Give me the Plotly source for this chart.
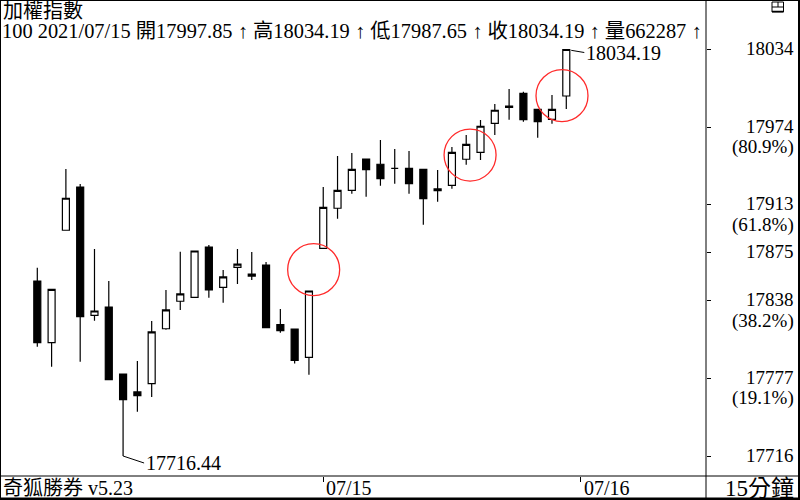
import plotly.graph_objects as go

# ---------------- data ----------------
opens = [17853.2, 17805.0, 17892.9, 17926.7, 17826.4, 17832.9, 17780.5, 17766.5, 17773.0, 17815.9,
         17837.4, 17840.5, 17879.8, 17848.3, 17863.9, 17858.7, 17865.7, 17819.1, 17815.7, 17793.6,
         17878.8, 17910.1, 17924.1, 17948.6, 17944.5, 17941.3, 17941.3, 17940.5, 17925.2, 17928.0,
         17948.4, 17953.8, 17976.5, 17990.0, 17999.9, 17987.4, 17979.6, 17997.85]
highs = [17863.6, 17847.0, 17940.8, 17929.1, 17878.2, 17853.2, 17780.5, 17790.7, 17822.0, 17846.2,
         17876.1, 17876.7, 17881.4, 17861.8, 17878.2, 17875.9, 17868.1, 17831.3, 17815.7, 17845.4,
         17926.7, 17950.9, 17953.3, 17948.6, 17963.4, 17956.4, 17954.9, 17940.5, 17940.0, 17958.0,
         17967.4, 17979.1, 17991.6, 18003.3, 18001.2, 17987.4, 17998.6, 18034.19]
lows = [17801.9, 17786.2, 17892.9, 17790.2, 17822.2, 17776.1, 17716.44, 17751.1, 17762.6, 17815.2,
        17830.6, 17840.5, 17840.2, 17836.3, 17850.9, 17854.0, 17816.7, 17812.8, 17788.7, 17780.0,
        17878.8, 17901.9, 17921.5, 17919.1, 17927.7, 17929.3, 17921.5, 17897.2, 17915.2, 17925.4,
        17944.1, 17947.8, 17967.4, 17979.3, 17977.8, 17965.2, 17976.2, 17987.65]
closes = [17805.0, 17846.7, 17917.9, 17825.3, 17829.8, 17776.1, 17760.5, 17763.6, 17813.4, 17830.6,
          17843.1, 17876.7, 17846.2, 17856.4, 17866.5, 17857.1, 17816.7, 17814.4, 17791.1, 17845.4,
          17910.8, 17924.1, 17940.5, 17940.2, 17933.2, 17941.3, 17929.3, 17917.6, 17923.8, 17953.8,
          17960.1, 17974.2, 17986.7, 17989.0, 17979.3, 17977.8, 17987.4, 18034.19]
bar_index = list(range(len(opens)))

date_tick_index = [20, 38]
date_tick_text = ["07/15", "07/16"]

fib_levels = [18034.19, 17973.50, 17912.81, 17875.32, 17837.82, 17777.13, 17716.44]
fib_values = ["18034", "17974", "17913", "17875", "17838", "17777", "17716"]
fib_pcts = ["", "(80.9%)", "(61.8%)", "", "(38.2%)", "(19.1%)", ""]

circle_x = [19.33, 30.27, 36.70]
circle_y = [17862.1, 17951.7, 17998.1]

title_text = "加權指數"
info_parts = ["100 2021/07/15", "開17997.85", "高18034.19", "低17987.65", "收18034.19", "量662287"]
footer_left = "奇狐勝券 v5.23"
footer_right = "15分鐘"

# ---------------- figure ----------------
W, H = 800, 500
PX_X = 706     # right edge of plot area (px)
PX_Y = 476     # bottom edge of plot area (px)

def px(x):
    return x / W

def py(y):
    return 1 - y / H

FONT = "Liberation Serif, Noto Sans CJK TC, serif"

fig = go.Figure()
fig.add_trace(go.Candlestick(
    x=bar_index, open=opens, high=highs, low=lows, close=closes,
    increasing=dict(line=dict(color="black", width=1.2), fillcolor="white"),
    decreasing=dict(line=dict(color="black", width=1.2), fillcolor="black"),
    whiskerwidth=0, showlegend=False, hoverinfo="skip",
))

shapes = []
# red highlight circles
for cx, cy in zip(circle_x, circle_y):
    shapes.append(dict(type="circle", xref="x", yref="y", xsizemode="pixel", ysizemode="pixel",
                       xanchor=cx, yanchor=cy, x0=-26, x1=26, y0=-26, y1=26,
                       line=dict(color="#ff2a2a", width=1.3)))

def pline(x0, y0, x1, y1, w=1):
    shapes.append(dict(type="line", xref="paper", yref="paper",
                       x0=px(x0), y0=py(y0), x1=px(x1), y1=py(y1),
                       line=dict(color="black", width=w)))

# frame
pline(0.5, 0, 0.5, 500, 1)
pline(0, 0.5, 800, 0.5, 1)
pline(799, 0, 799, 500, 2)
pline(0, 498.8, 800, 498.8, 2.5)
pline(0, PX_Y, 800, PX_Y, 1)
pline(PX_X, 0, PX_X, 500, 1)
# small icon top right
shapes.append(dict(type="rect", xref="paper", yref="paper", x0=px(772), x1=px(783.5),
                   y0=py(2), y1=py(12), line=dict(color="black", width=1)))
pline(772, 7, 783.5, 7, 1)
pline(778, 2, 778, 7, 1)
pline(772, 11.5, 783.5, 11.5, 1.5)

annotations = []
annotations.append(dict(text=title_text, xref="paper", yref="paper", x=px(1), y=py(11),
                        xanchor="left", yanchor="middle", showarrow=False,
                        font=dict(family=FONT, size=20, color="black")))
info_text = " <b>↑</b> ".join(info_parts[:2]) + " <b>↑</b> " + " <b>↑</b> ".join(info_parts[2:]) + " <b>↑</b>"
info_text = info_parts[0] + " " + " ".join(p + " <b>↑</b>" for p in info_parts[1:])
annotations.append(dict(text=info_text, xref="paper", yref="paper", x=px(0), y=py(31.5),
                        xanchor="left", yanchor="middle", showarrow=False,
                        font=dict(family=FONT, size=20.4, color="black")))

# right axis labels
for lvl, val, pct in zip(fib_levels, fib_values, fib_pcts):
    annotations.append(dict(text=val, xref="paper", yref="y", x=px(796), y=lvl,
                            xanchor="right", yanchor="middle", yshift=1, showarrow=False,
                            font=dict(family=FONT, size=19, color="black")))
    if pct:
        annotations.append(dict(text=pct, xref="paper", yref="y", x=px(796), y=lvl,
                                xanchor="right", yanchor="middle", yshift=-20, showarrow=False,
                                font=dict(family=FONT, size=19, color="black")))

# bottom strip
annotations.append(dict(text=footer_left, xref="paper", yref="paper", x=px(1), y=py(488),
                        xanchor="left", yanchor="middle", showarrow=False,
                        font=dict(family=FONT, size=20, color="black")))
annotations.append(dict(text=footer_right, xref="paper", yref="paper", x=px(796), y=py(488),
                        xanchor="right", yanchor="middle", showarrow=False,
                        font=dict(family=FONT, size=23, color="black")))
for ti, tt in zip(date_tick_index, date_tick_text):
    annotations.append(dict(text=tt, xref="x", yref="paper", x=ti, y=py(488),
                            xanchor="left", yanchor="middle", xshift=1, showarrow=False,
                            font=dict(family=FONT, size=20, color="black")))

# high / low labels
hi_idx = max(bar_index, key=lambda i: highs[i])
lo_idx = min(bar_index, key=lambda i: lows[i])
annotations.append(dict(text=f"{highs[hi_idx]:.2f}", xref="x", yref="y", x=hi_idx, y=highs[hi_idx],
                        ax=18, ay=3, xanchor="left", yanchor="middle",
                        showarrow=True, arrowhead=0, arrowwidth=1, arrowcolor="black", standoff=5,
                        font=dict(family=FONT, size=20, color="black")))
annotations.append(dict(text=f"{lows[lo_idx]:.2f}", xref="x", yref="y", x=lo_idx, y=lows[lo_idx],
                        ax=21, ay=7, xanchor="left", yanchor="middle",
                        showarrow=True, arrowhead=0, arrowwidth=1, arrowcolor="black", standoff=0,
                        font=dict(family=FONT, size=20, color="black")))

k = 0.78168  # price per pixel
y_top = highs[hi_idx] + 49.5 * k
y_bot = highs[hi_idx] - (PX_Y - 49.5) * k

fig.update_layout(
    width=W, height=H, margin=dict(l=0, r=0, t=0, b=0),
    paper_bgcolor="white", plot_bgcolor="white",
    shapes=shapes, annotations=annotations, showlegend=False,
    xaxis=dict(domain=[0, px(PX_X)], range=[-2.609, (PX_X - 37.3) / 14.297],
               showgrid=False, zeroline=False, showline=False,
               ticks="outside", ticklen=5, tickcolor="black", tickwidth=1,
               tickvals=date_tick_index, showticklabels=False,
               rangeslider=dict(visible=False), fixedrange=True),
    yaxis=dict(domain=[1 - PX_Y / H, 1], range=[y_bot, y_top], side="right",
               showgrid=False, zeroline=False, showline=False,
               ticks="outside", ticklen=4, tickcolor="black", tickwidth=1,
               tickvals=fib_levels, showticklabels=False, fixedrange=True, automargin=False),
)

fig.write_html("out.html")
